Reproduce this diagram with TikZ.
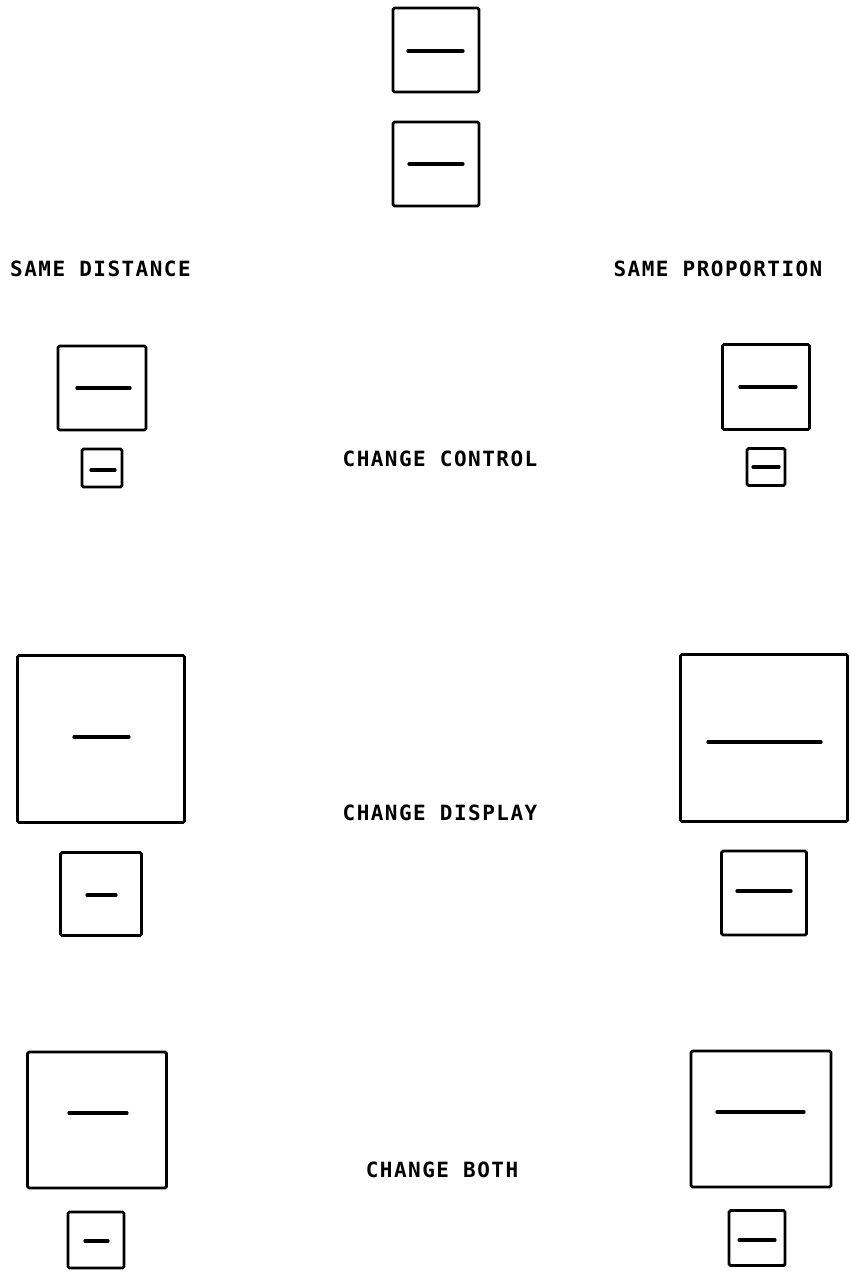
\documentclass[tikz,border=0pt]{standalone}
\usepackage{fontspec}
\newfontfamily\plotfont[LetterSpace=7]{DejaVu Sans Mono}
\usepackage{tikz}

\begin{document}
\begin{tikzpicture}[x=1pt, y=-1pt,
    every node/.style={inner sep=0pt},
    frame/.style={draw, line width=2.8pt, rounded corners=1.5pt},
    bar/.style={line width=3.2pt, line cap=round},
    caption/.style={font=\plotfont\bfseries\fontsize{21}{25}\selectfont}
]
\useasboundingbox (0,0) rectangle (851,1282);
% reference pair
\node[frame, minimum width=86pt, minimum height=84pt] (R1) at (436,50) {};
\node[frame, minimum width=86pt, minimum height=84pt] (R2) at (436,164) {};
\draw[bar] (408,51) -- (463,51);
\draw[bar] (409,164) -- (463,164);
\node[caption, anchor=west] (SD) at (10,269) {SAME DISTANCE};
\node[caption] (SP) at (718,269) {SAME PROPORTION};
% change control
\node[frame, minimum width=88pt, minimum height=84pt] (CCL1) at (102,388) {};
\node[frame, minimum width=40pt, minimum height=38pt] (CCL2) at (102,468) {};
\draw[bar] (77,388) -- (130,388);
\draw[bar] (91,470) -- (115,470);
\node[caption] (CC) at (440,459) {CHANGE CONTROL};
\node[frame, minimum width=87pt, minimum height=85pt] (CCR1) at (766,387) {};
\node[frame, minimum width=38pt, minimum height=37pt] (CCR2) at (766,467) {};
\draw[bar] (753,467) -- (779,467);
\draw[bar] (740,387) -- (796,387);
% change display
\node[frame, minimum width=167pt, minimum height=167pt] (CDL1) at (101,739) {};
\node[frame, minimum width=81pt, minimum height=83pt] (CDL2) at (101,894) {};
\draw[bar] (74,737) -- (129,737);
\draw[bar] (87,895) -- (116,895);
\node[caption] (CD) at (440,813) {CHANGE DISPLAY};
\node[frame, minimum width=167pt, minimum height=167pt] (CDR1) at (764,738) {};
\node[frame, minimum width=85pt, minimum height=84pt] (CDR2) at (764,893) {};
\draw[bar] (708,742) -- (821,742);
\draw[bar] (737,891) -- (791,891);
% change both
\node[frame, minimum width=139pt, minimum height=136pt] (CBL1) at (97,1120) {};
\node[frame, minimum width=56pt, minimum height=56pt] (CBL2) at (96,1240) {};
\draw[bar] (69,1113) -- (127,1113);
\draw[bar] (85,1241) -- (108,1241);
\node[caption] (CB) at (442,1170) {CHANGE BOTH};
\node[frame, minimum width=140pt, minimum height=136pt] (CBR1) at (761,1119) {};
\node[frame, minimum width=56pt, minimum height=55pt] (CBR2) at (757,1238) {};
\draw[bar] (717,1112) -- (804,1112);
\draw[bar] (739,1240) -- (775,1240);
\end{tikzpicture}
\end{document}
